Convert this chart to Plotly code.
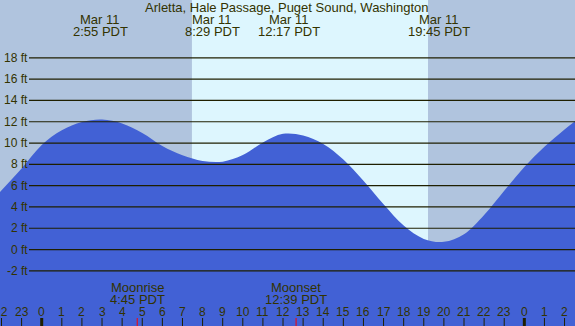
import plotly.graph_objects as go

# ---- data ----
title_text = "Arletta, Hale Passage, Puget Sound, Washington"
tide_hours = [-2.1, -1, 0, 1, 2, 3, 4, 5, 6, 7, 8, 9, 10, 11, 12, 13, 14, 15,
              16, 17, 18, 19, 20, 21, 22, 23, 24, 25, 26, 26.6]
tide_feet = [5.35, 7.6, 9.82, 11.2, 11.97, 12.2, 11.84, 10.95, 9.72, 8.85, 8.32, 8.25, 8.87,
             10.05, 10.86, 10.7, 9.9, 8.45, 6.45, 4.25, 2.25, 1.0, 0.72, 1.43, 3.24,
             5.52, 7.74, 9.64, 11.26, 12.15]
event_hours = [2.917, 8.483, 12.283, 19.75]
event_dates = ["Mar 11", "Mar 11", "Mar 11", "Mar 11"]
event_times = ["2:55 PDT", "8:29 PDT", "12:17 PDT", "19:45 PDT"]
moon_hours = [4.75, 12.65]
moon_names = ["Moonrise", "Moonset"]
moon_times = ["4:45 PDT", "12:39 PDT"]
sunrise_hour = 7.47
sunset_hour = 19.21
y_ticks = [-2, 0, 2, 4, 6, 8, 10, 12, 14, 16, 18]
tick_hours = list(range(-2, 27))
tick_labels = [str(h % 24) for h in tick_hours]

# ---- style ----
W, H = 575, 326
NIGHT = "#B0C4DE"
DAY = "#DDF6FE"
TIDE = "#4261D5"
INK = "#333300"
GRID = "#1F1F00"
FONT = "Liberation Sans"
X_RANGE = [-2.074, 26.52]
Y_RANGE = [-7.18, 23.43]


def py(pix):
    return 1 - pix / H


fig = go.Figure()
fig.add_trace(go.Scatter(x=[tide_hours[0], tide_hours[-1]], y=[-20, -20], mode="lines",
                         line=dict(width=0), showlegend=False, hoverinfo="skip"))
fig.add_trace(go.Scatter(x=tide_hours, y=tide_feet, mode="lines",
                         line=dict(width=0, shape="spline", smoothing=1),
                         fill="tonexty", fillcolor=TIDE, showlegend=False, hoverinfo="skip"))

shapes = [dict(type="rect", xref="x", yref="paper", x0=sunrise_hour, x1=sunset_hour, y0=0, y1=1,
               fillcolor=DAY, line=dict(width=0), layer="below")]
for v in y_ticks:
    shapes.append(dict(type="line", xref="paper", yref="y", x0=29 / W, x1=1, y0=v, y1=v,
                       line=dict(color=GRID, width=1.2), layer="above"))
for h in tick_hours:
    shapes.append(dict(type="line", xref="x", yref="paper", x0=h, x1=h, y0=0, y1=8 / H,
                       line=dict(color=GRID, width=3 if h % 24 == 0 else 1), layer="above"))
for h in moon_hours:
    shapes.append(dict(type="line", xref="x", yref="paper", x0=h, x1=h, y0=0, y1=8 / H,
                       line=dict(color="#FF0000", width=1), layer="above"))

ann = []
def txt(x, y, text, size, xref="x", xanchor="center"):
    ann.append(dict(x=x, y=y, xref=xref, yref="paper", text=text, showarrow=False,
                    xanchor=xanchor, yanchor="middle", borderpad=0, borderwidth=0,
                    font=dict(family=FONT, size=size, color=INK)))

txt(287 / W, py(8), title_text, 13, xref="paper")
for h, d, t in zip(event_hours, event_dates, event_times):
    txt(h, py(19), d, 13)
    txt(h, py(32), t, 13)
for h, n, t in zip(moon_hours, moon_names, moon_times):
    txt(h, py(287.5), n, 13)
    txt(h, py(299.5), t, 13)
for h, lab in zip(tick_hours, tick_labels):
    txt(h, py(311.5), lab, 12)
for v in y_ticks:
    ann.append(dict(x=27.5 / W, y=v, xref="paper", yref="y", text=f"{v} ft", showarrow=False,
                    xanchor="right", yanchor="middle", borderpad=0, borderwidth=0,
                    font=dict(family=FONT, size=12, color=INK)))

fig.update_layout(
    width=W, height=H, margin=dict(l=0, r=0, t=0, b=0),
    plot_bgcolor=NIGHT, paper_bgcolor=NIGHT,
    xaxis=dict(range=X_RANGE, visible=False, fixedrange=True),
    yaxis=dict(range=Y_RANGE, visible=False, fixedrange=True),
    shapes=shapes, annotations=ann, showlegend=False,
)
fig.write_html("out.html", config={"displayModeBar": False},
               post_script="document.body.style.margin='0';document.body.style.overflow='hidden';")
